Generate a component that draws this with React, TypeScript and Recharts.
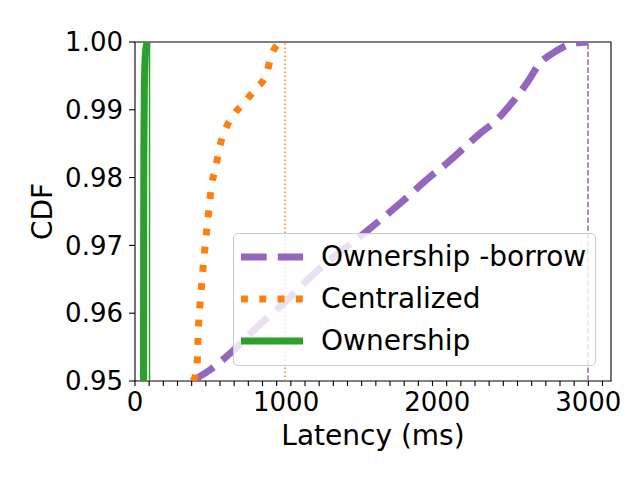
import React from "react"
import { LineChart, Line, XAxis, YAxis, ReferenceLine, ReferenceArea } from "recharts"

const FONT = "DejaVu Sans"

// CDF tail (latency in ms)
const borrowX = [377, 500, 650, 800, 1000, 1150, 1270, 1450, 1621, 1754, 1952, 2063, 2283, 2394, 2482, 2592, 2680, 2768, 2901, 2998]
const borrowY = [0.95, 0.9517, 0.9545, 0.9578, 0.9618, 0.9651, 0.9675, 0.9706, 0.9737, 0.9762, 0.9801, 0.9821, 0.9865, 0.9885, 0.9907, 0.9939, 0.9969, 0.9984, 0.9998, 1.0]

const centralX = [386, 410, 419, 437, 457, 481, 508, 536, 558, 596, 651, 728, 801, 868, 900, 965]
const centralY = [0.95, 0.9521, 0.9575, 0.963, 0.9683, 0.9736, 0.979, 0.9817, 0.9843, 0.987, 0.9892, 0.9912, 0.9932, 0.9951, 0.9979, 1.0]

const ownX = [56, 57, 59, 62, 68, 80]
const ownY = [0.95, 0.97, 0.985, 0.993, 0.998, 1.0]

// max-latency markers
const borrowMax = 2998
const centralMax = 993
const ownMax = 96

const yTicks = [0.95, 0.96, 0.97, 0.98, 0.99, 1.0]
const xLabels = [0, 1000, 2000, 3000]
const xMinor = [0, 93.75, 187.5, 281.25, 375, 468.75, 562.5, 656.25, 750, 843.75, 937.5, 1031.25, 1125, 1218.75, 1312.5, 1406.25, 1500, 1593.75, 1687.5, 1781.25, 1875, 1968.75, 2062.5, 2156.25, 2250, 2343.75, 2437.5, 2531.25, 2625, 2718.75, 2812.5, 2906.25, 3000, 3093.75]
const xTicks = Array.from(new Set([...xMinor, ...xLabels])).sort((a, b) => a - b)

const PURPLE = "#9467bd"
const ORANGE = "#ff7f0e"
const GREEN = "#2ca02c"

const pts = (xs: number[], ys: number[]) => xs.map((x, i) => ({ x, y: ys[i] }))

const XTick = (props: any) => {
  const { x, y, payload } = props
  const v = payload.value
  return (
    <g>
      {xMinor.includes(v) && <line x1={x} x2={x} y1={y} y2={y + 5} stroke="#000" strokeWidth={1.1} />}
      {xLabels.includes(v) && (
        <text x={x} y={y + 30} textAnchor="middle" fontFamily={FONT} fontSize={26} fill="#000">{v}</text>
      )}
    </g>
  )
}

const legendItems = [
  { name: "Ownership -borrow", color: PURPLE, dash: "25.7 11.1" },
  { name: "Centralized", color: ORANGE, dash: "6.9 11.4" },
  { name: "Ownership", color: GREEN, dash: undefined },
]

export default function App() {
  return (
    <div style={{ position: "absolute", left: 0, top: 0, width: 640, height: 480, background: "#fff" }}>
      <LineChart width={640} height={480} margin={{ top: 42, right: 29, left: 0, bottom: 0 }}>
        <XAxis
          dataKey="x" type="number" domain={[0, 3150]} allowDataOverflow
          ticks={xTicks} interval={0} tick={<XTick />} tickLine={false} axisLine={false}
          tickSize={0} tickMargin={0} height={99}
          label={(p: any) => (
            <text x={p.viewBox.x + p.viewBox.width / 2} y={445} textAnchor="middle" fontFamily={FONT} fontSize={28} fill="#000">Latency (ms)</text>
          )}
        />
        <YAxis
          dataKey="y" type="number" domain={[0.95, 1.0]} allowDataOverflow
          ticks={yTicks} interval={0} width={135} axisLine={false}
          tickSize={6} tickMargin={6} tickLine={{ stroke: "#000", strokeWidth: 1.1 }}
          tickFormatter={(v: number) => v.toFixed(2)}
          tick={{ fontFamily: FONT, fontSize: 26, fill: "#000" }}
          label={(p: any) => (
            <text x={52} y={p.viewBox.y + p.viewBox.height / 2} transform={`rotate(-90 52 ${p.viewBox.y + p.viewBox.height / 2})`} textAnchor="middle" fontFamily={FONT} fontSize={28} fill="#000">CDF</text>
          )}
        />
        <ReferenceLine x={borrowMax} stroke={PURPLE} strokeWidth={1.5} strokeDasharray="5.5 2.4" />
        <ReferenceLine x={centralMax} stroke={ORANGE} strokeWidth={1.5} strokeDasharray="1.5 2.5" />
        <ReferenceLine x={ownMax} stroke={GREEN} strokeWidth={1.5} />
        <Line data={pts(borrowX, borrowY)} dataKey="y" type="monotone" stroke={PURPLE} strokeWidth={7} strokeDasharray="25.7 11.1" dot={false} isAnimationActive={false} />
        <Line data={pts(centralX, centralY)} dataKey="y" type="monotone" stroke={ORANGE} strokeWidth={7} strokeDasharray="6.9 11.4" dot={false} isAnimationActive={false} />
        <Line data={pts(ownX, ownY)} dataKey="y" type="monotone" stroke={GREEN} strokeWidth={7} dot={false} isAnimationActive={false} />
        <ReferenceArea x1={0} x2={3150} y1={0.95} y2={1.0} fill="none" fillOpacity={0} stroke="#000" strokeWidth={1.1} />
      </LineChart>
      <div
        style={{
          position: "absolute", left: 233, top: 233, width: 363, height: 133, boxSizing: "border-box",
          border: "1px solid #cccccc", borderRadius: 5, background: "rgba(255,255,255,0.8)",
          fontFamily: FONT, fontSize: 28, color: "#000",
        }}
      >
        {legendItems.map((it, i) => (
          <div key={it.name} style={{ position: "absolute", left: 0, top: 2 + i * 42, height: 42, display: "flex", alignItems: "center", whiteSpace: "nowrap" }}>
            <svg width={80} height={42} style={{ display: "block" }}>
              <line x1={7} x2={69} y1={21} y2={21} stroke={it.color} strokeWidth={7} strokeDasharray={it.dash} />
            </svg>
            <span style={{ marginLeft: 7, lineHeight: "42px" }}>{it.name}</span>
          </div>
        ))}
      </div>
    </div>
  )
}
